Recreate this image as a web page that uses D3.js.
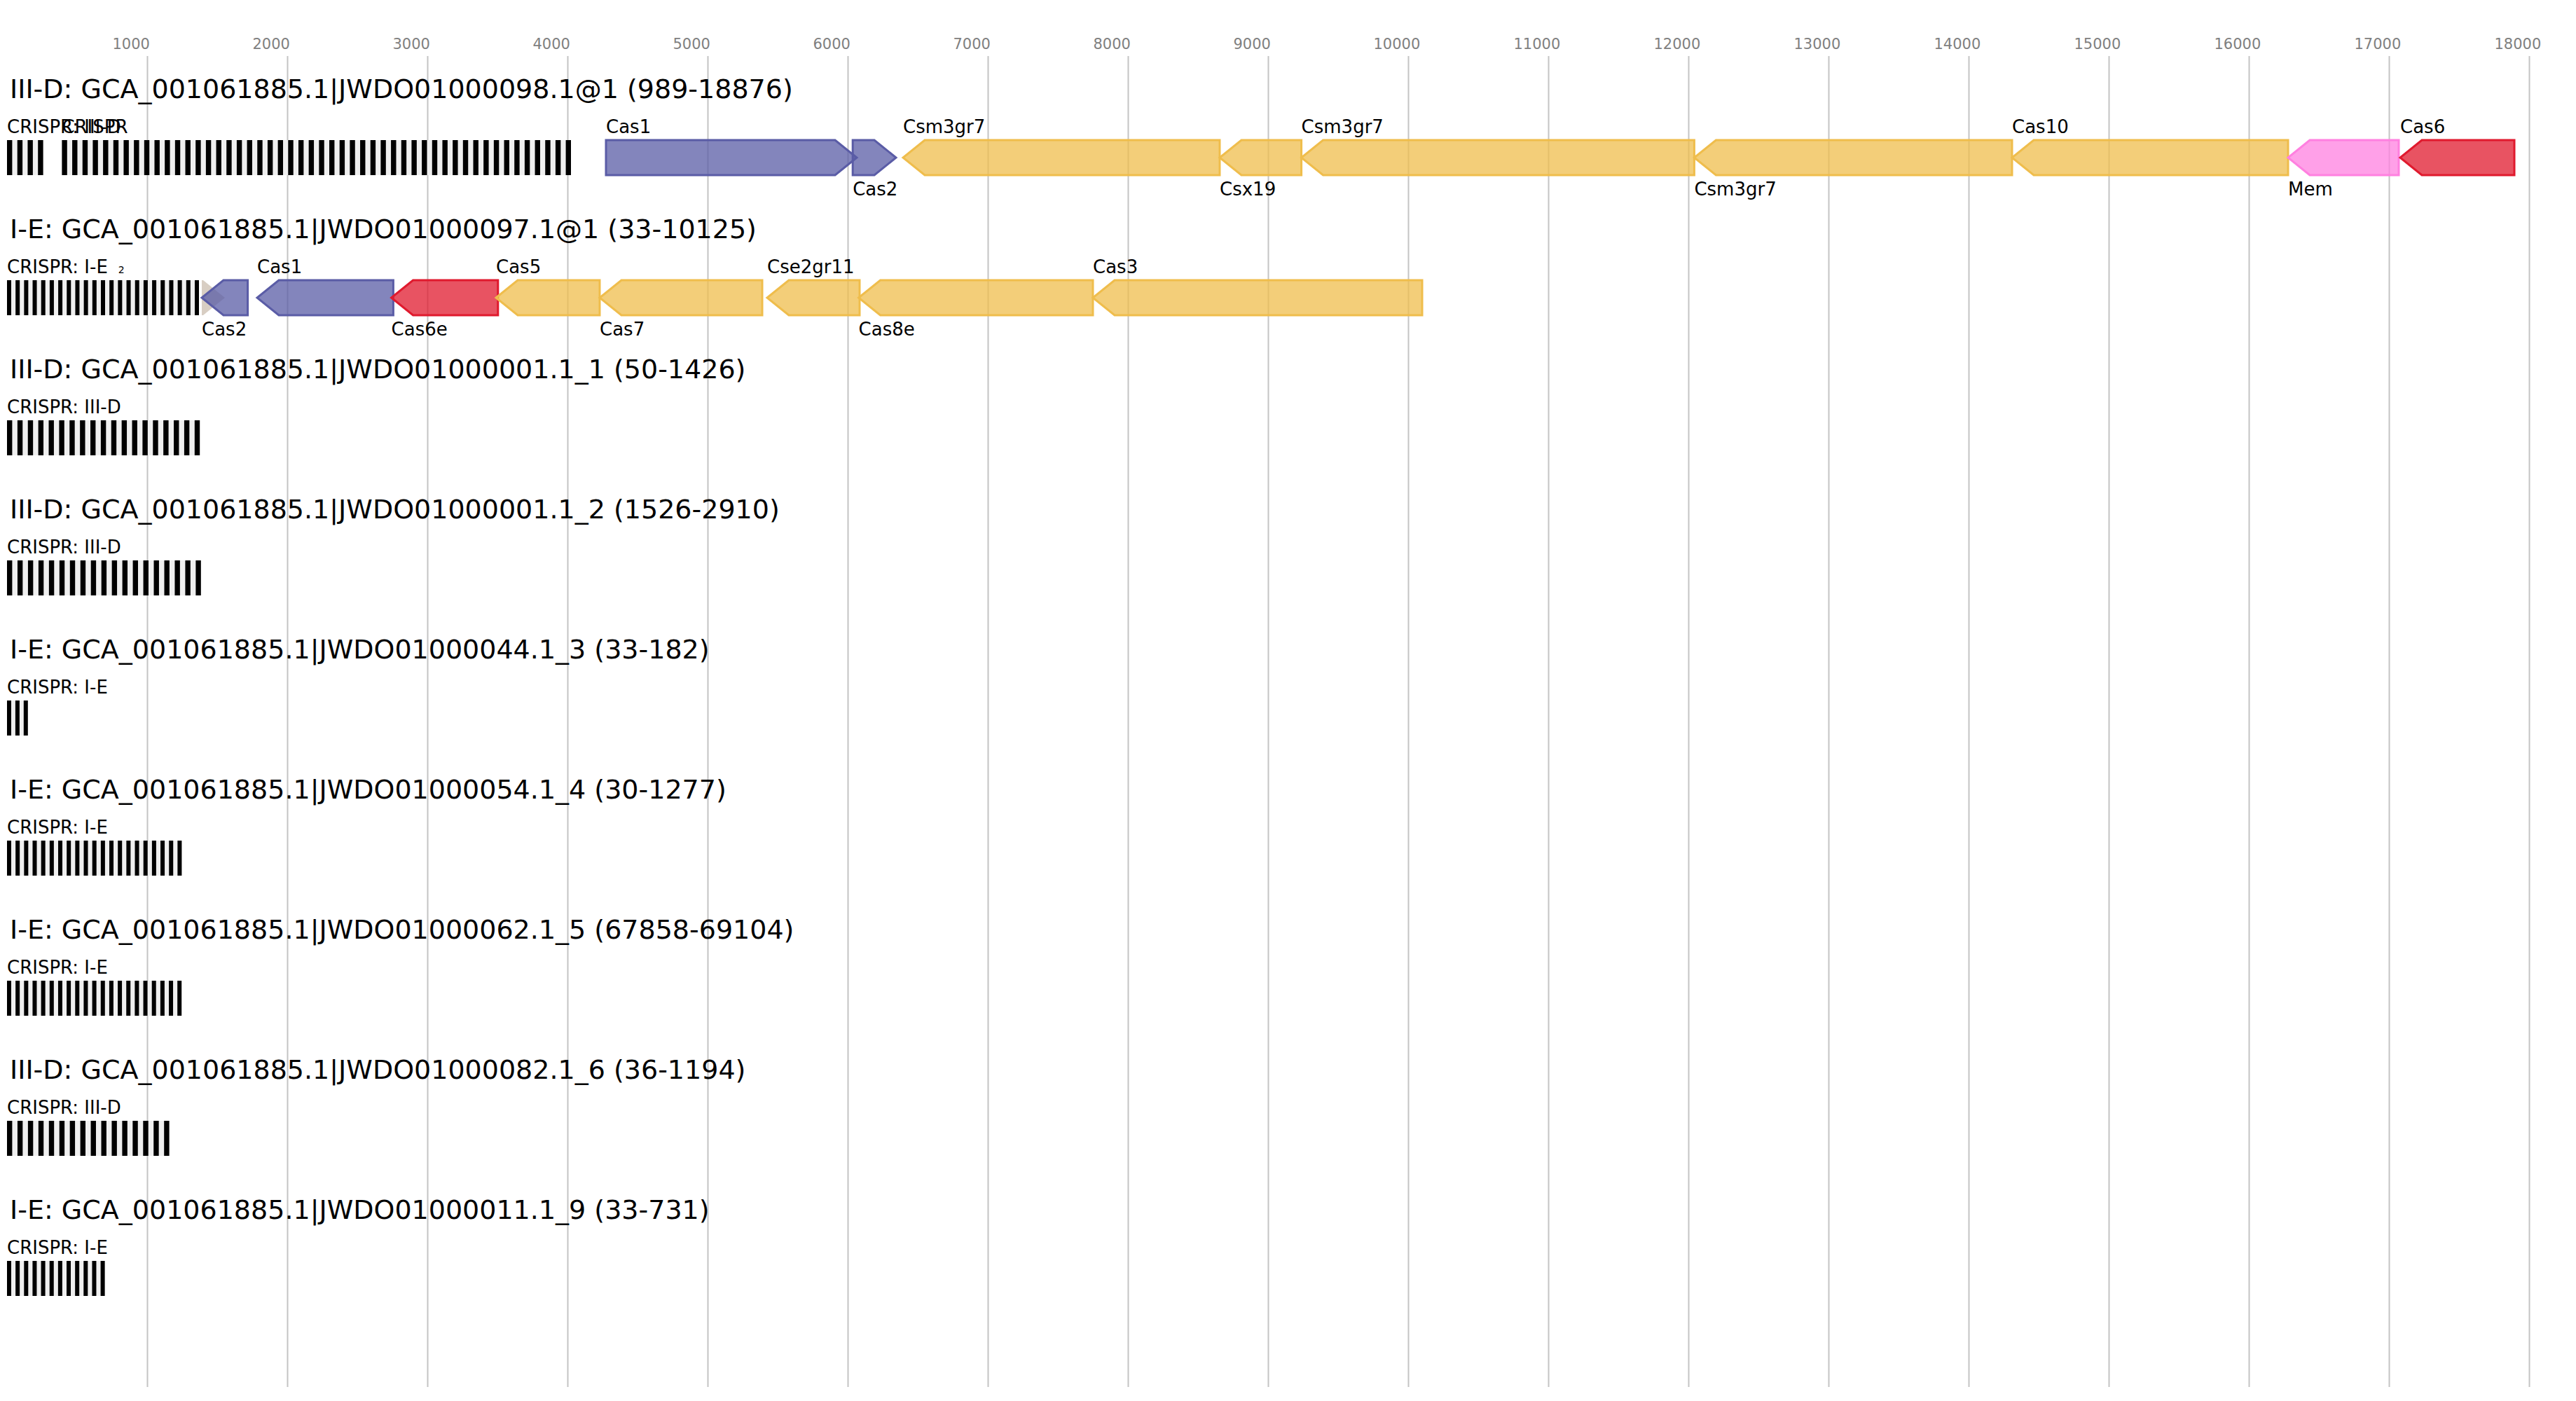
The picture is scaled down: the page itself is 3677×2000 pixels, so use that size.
<!DOCTYPE html>
<html>
<head>
<meta charset="utf-8">
<script src="https://cdn.jsdelivr.net/npm/d3@7"></script>
<style>
  body { margin: 0; background: #fff; }
  text { font-family: "DejaVu Sans", sans-serif; }
</style>
</head>
<body>
<div id="viz"></div>
<script>
// loci, top to bottom
var rowTitles = [
  "III-D: GCA_001061885.1|JWDO01000098.1@1 (989-18876)",
  "I-E: GCA_001061885.1|JWDO01000097.1@1 (33-10125)",
  "III-D: GCA_001061885.1|JWDO01000001.1_1 (50-1426)",
  "III-D: GCA_001061885.1|JWDO01000001.1_2 (1526-2910)",
  "I-E: GCA_001061885.1|JWDO01000044.1_3 (33-182)",
  "I-E: GCA_001061885.1|JWDO01000054.1_4 (30-1277)",
  "I-E: GCA_001061885.1|JWDO01000062.1_5 (67858-69104)",
  "III-D: GCA_001061885.1|JWDO01000082.1_6 (36-1194)",
  "I-E: GCA_001061885.1|JWDO01000011.1_9 (33-731)"
];

var tickValues = [1000, 2000, 3000, 4000, 5000, 6000, 7000, 8000, 9000,
  10000, 11000, 12000, 13000, 14000, 15000, 16000, 17000, 18000];

// CRISPR arrays: row, start, end (bp), repeat count, repeat length, label
var crisprArrays = [
  {row: 0, start: 0,   end: 258,  repeats: 4,  repLen: 37, label: "CRISPR: III-D"},
  {row: 0, start: 392, end: 4025, repeats: 50, repLen: 37, label: "CRISPR"},
  {row: 1, start: 0,   end: 1370, repeats: 23, repLen: 30, label: "CRISPR: I-E", note: "2"},
  {row: 2, start: 0,   end: 1376, repeats: 19, repLen: 37, label: "CRISPR: III-D"},
  {row: 3, start: 0,   end: 1384, repeats: 19, repLen: 37, label: "CRISPR: III-D"},
  {row: 4, start: 0,   end: 149,  repeats: 3,  repLen: 30, label: "CRISPR: I-E"},
  {row: 5, start: 0,   end: 1247, repeats: 21, repLen: 30, label: "CRISPR: I-E"},
  {row: 6, start: 0,   end: 1246, repeats: 21, repLen: 30, label: "CRISPR: I-E"},
  {row: 7, start: 0,   end: 1158, repeats: 16, repLen: 37, label: "CRISPR: III-D"},
  {row: 8, start: 0,   end: 698,  repeats: 12, repLen: 30, label: "CRISPR: I-E"}
];

// genes: row, name, start, end (bp), strand, functional class
var genes = [
  {row: 0, name: "Cas1",    start: 4275,  end: 6065,  strand: 1,  cls: "adapt"},
  {row: 0, name: "Cas2",    start: 6036,  end: 6345,  strand: 1,  cls: "adapt"},
  {row: 0, name: "Csm3gr7", start: 6395,  end: 8655,  strand: -1, cls: "effector"},
  {row: 0, name: "Csx19",   start: 8655,  end: 9238,  strand: -1, cls: "effector"},
  {row: 0, name: "Csm3gr7", start: 9238,  end: 12042, strand: -1, cls: "effector"},
  {row: 0, name: "Csm3gr7", start: 12042, end: 14310, strand: -1, cls: "effector"},
  {row: 0, name: "Cas10",   start: 14310, end: 16280, strand: -1, cls: "effector"},
  {row: 0, name: "Mem",     start: 16280, end: 17070, strand: -1, cls: "membrane"},
  {row: 0, name: "Cas6",    start: 17080, end: 17895, strand: -1, cls: "processing"},

  {row: 1, name: "",         start: 1390, end: 1555,  strand: 1,  cls: "other"},
  {row: 1, name: "Cas2",     start: 1390, end: 1718,  strand: -1, cls: "adapt"},
  {row: 1, name: "Cas1",     start: 1785, end: 2757,  strand: -1, cls: "adapt"},
  {row: 1, name: "Cas6e",    start: 2743, end: 3504,  strand: -1, cls: "processing"},
  {row: 1, name: "Cas5",     start: 3490, end: 4230,  strand: -1, cls: "effector"},
  {row: 1, name: "Cas7",     start: 4230, end: 5390,  strand: -1, cls: "effector"},
  {row: 1, name: "Cse2gr11", start: 5425, end: 6085,  strand: -1, cls: "effector"},
  {row: 1, name: "Cas8e",    start: 6078, end: 7750,  strand: -1, cls: "effector"},
  {row: 1, name: "Cas3",     start: 7750, end: 10100, strand: -1, cls: "effector"}
];

var strokeColor = {adapt: "#5a5ca6", effector: "#efbd4c", membrane: "#ff80e0", processing: "#e01a2e", other: "#c8b9aa"};

var W = 3677, H = 2000;
var svg = d3.select("#viz").append("svg").attr("width", W).attr("height", H);
svg.append("rect").attr("width", W).attr("height", H).attr("fill", "#fff");

var x = d3.scaleLinear().domain([0, 18000]).range([10, 3610]);
var rowY = d3.scaleLinear().domain([0, 8]).range([140, 1740]); // title baseline per row

// axis + grid
var axis = d3.axisBottom(x).tickValues(tickValues).tickSize(1900).tickFormat(d3.format("d"));
var gAxis = svg.append("g").attr("transform", "translate(0,80)").call(axis);
gAxis.select(".domain").remove();
gAxis.selectAll(".tick line").attr("stroke", "#c4c4c4").attr("stroke-width", 2);
gAxis.selectAll(".tick text")
  .attr("y", -10).attr("dy", 0).attr("x", -50)
  .attr("text-anchor", "start")
  .attr("fill", "#808080")
  .style("font-size", "21px")
  .style("font-family", "DejaVu Sans");

// row titles
svg.selectAll("text.title").data(rowTitles).enter().append("text")
  .attr("class", "title")
  .attr("x", 14).attr("y", function(d, i){ return rowY(i); })
  .style("font-size", "38px")
  .text(function(d){ return d; });

// CRISPR arrays
var arr = svg.selectAll("g.crispr").data(crisprArrays).enter().append("g").attr("class", "crispr");
arr.append("rect")
  .attr("x", function(d){ return x(d.start); })
  .attr("width", function(d){ return x(d.end) - x(d.start); })
  .attr("y", function(d){ return rowY(d.row) + 60; })
  .attr("height", 50)
  .attr("fill", "#efefef");
arr.each(function(d){
  var step = (d.end - d.start - d.repLen) / (d.repeats - 1);
  d3.select(this).selectAll("rect.rep").data(d3.range(d.repeats)).enter().append("rect")
    .attr("class", "rep")
    .attr("x", function(k){ return x(d.start + k * step); })
    .attr("width", x(d.repLen) - x(0))
    .attr("y", rowY(d.row) + 60)
    .attr("height", 50)
    .attr("fill", "#000");
});
var lab = arr.append("text")
  .attr("x", function(d){ return x(d.start); })
  .attr("y", function(d){ return rowY(d.row) + 50; })
  .style("font-size", "26px")
  .text(function(d){ return d.label; });
lab.filter(function(d){ return d.note; }).append("tspan")
  .attr("dx", 15).style("font-size", "14px")
  .text(function(d){ return d.note; });

// gene arrows
function arrowPath(d) {
  var x0 = x(Math.min(d.start, d.end)), x1 = x(Math.max(d.start, d.end));
  var top = rowY(d.row) + 60, bot = rowY(d.row) + 110, mid = (top + bot) / 2;
  var head = Math.min(31, x1 - x0);
  if (d.strand > 0)
    return "M" + x0 + "," + top + "L" + (x1 - head) + "," + top + "L" + x1 + "," + mid +
      "L" + (x1 - head) + "," + bot + "L" + x0 + "," + bot + "Z";
  return "M" + x1 + "," + top + "L" + (x0 + head) + "," + top + "L" + x0 + "," + mid +
    "L" + (x0 + head) + "," + bot + "L" + x1 + "," + bot + "Z";
}

svg.selectAll("path.gene").data(genes).enter().append("path")
  .attr("class", "gene")
  .attr("d", arrowPath)
  .attr("fill", function(d){ return strokeColor[d.cls]; })
  .attr("fill-opacity", function(d){ return d.cls === "other" ? 0.7 : 0.75; })
  .attr("stroke", function(d){ return d.cls === "other" ? "none" : strokeColor[d.cls]; })
  .attr("stroke-width", 3)
  .attr("stroke-linejoin", "miter");

// gene labels alternate above / below within each row
var rowCount = {};
genes.forEach(function(d){
  var k = rowCount[d.row] || 0;
  d.side = k % 2 === 0 ? "above" : "below";
  rowCount[d.row] = k + 1;
});
svg.selectAll("text.gene").data(genes.filter(function(d){ return d.name; })).enter().append("text")
  .attr("class", "gene")
  .attr("x", function(d){ return x(Math.min(d.start, d.end)); })
  .attr("y", function(d){ return rowY(d.row) + (d.side === "above" ? 50 : 139); })
  .style("font-size", "26px")
  .text(function(d){ return d.name; });
</script>
</body>
</html>
